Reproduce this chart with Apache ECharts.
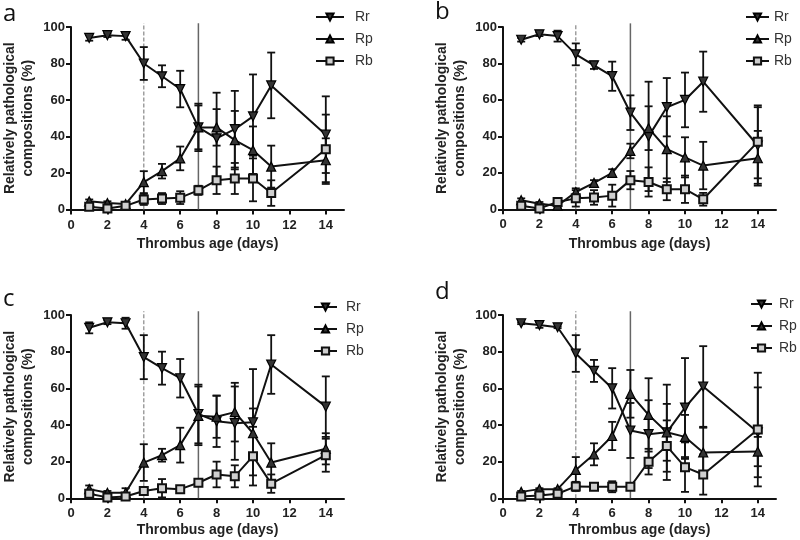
<!DOCTYPE html>
<html><head><meta charset="utf-8">
<script src="https://cdn.jsdelivr.net/npm/echarts@6/dist/echarts.min.js"></script>
<style>html,body{margin:0;padding:0;background:#fff}#c{width:800px;height:540px}</style>
</head><body><div id="c"></div>
<script>
// ---------- data ----------
const days = [1, 2, 3, 4, 5, 6, 7, 8, 9, 10, 11, 14];
const xTicks = [0, 2, 4, 6, 8, 10, 12, 14];
const seriesNames = ['Rr', 'Rp', 'Rb'];
const dashedDay = 4, solidDay = 7, refTop = 102;

// panel a
const aRr = [94, 95.5, 95, 80, 73, 66, 45, 39, 44, 51, 68, 41];
const aRrErr = [1.5, 1, 2, 9, 6, 10, 13, 25, 21, 23, 18, 21];
const aRp = [4.5, 3.5, 3, 15, 21, 28, 45, 45, 38, 32.5, 23.5, 27];
const aRpErr = [1, 1, 1, 6, 4, 6.5, 12, 10, 16, 13, 11.5, 12];
const aRb = [1.5, 0.5, 2, 5.5, 6, 6.5, 10.5, 16, 17, 17, 9, 33];
const aRbErr = [1.5, 1, 1, 3, 3, 3.5, 2.5, 7.5, 8.5, 12.5, 7, 19];
// panel b
const bRr = [93, 96, 95, 85, 79, 73, 53, 40, 56, 60, 70, 35];
const bRrErr = [1, 1, 3, 6, 2, 8, 9.5, 30, 16, 15, 16.5, 21];
const bRp = [5, 3, 2, 9.5, 14.5, 20, 32, 44.5, 33, 28.5, 24, 28];
const bRpErr = [1, 1, 1, 2, 1.5, 2, 4, 12, 18, 11, 13, 15];
const bRb = [2, 0.5, 4, 6, 6.5, 7.5, 16, 15, 11, 11, 5.5, 37];
const bRbErr = [1, 1, 1, 4.5, 4, 6, 5, 8, 6, 7.5, 3.5, 20];
// panel c
const cRr = [93, 96, 95.5, 77, 71, 65.5, 46, 42, 41, 41.5, 73, 50];
const cRrErr = [3, 1, 3, 12, 9, 10.5, 16, 14, 20, 29, 16, 16.5];
const cRp = [5, 3, 3, 19.5, 23.5, 29, 45, 44.5, 47, 35.5, 19.5, 27];
const cRpErr = [2, 1, 2.5, 10, 3.5, 9.5, 16, 11.5, 16, 13.5, 10.5, 8.5];
const cRb = [2.5, 0.5, 1, 4, 5.5, 5, 8.5, 13, 12, 23, 8, 23.5];
const cRbErr = [2, 1, 1, 2, 5, 1, 1.5, 7, 6, 16, 5, 9];
// panel d
const dRr = [95.5, 94.5, 93.3, 79, 69.5, 60, 37, 35, 36, 49.5, 61, 36];
const dRrErr = [0.5, 1.5, 0.5, 10, 6, 11, 15, 18.5, 15.5, 27, 22, 24.5];
const dRp = [3.5, 5, 5, 15.5, 24, 34, 57, 45.5, 36, 33.5, 25, 25.5];
const dRpErr = [0.5, 0.5, 0.5, 7, 6, 7.7, 13, 20, 26, 12, 13.5, 8];
const dRb = [1, 1.5, 2.5, 6.5, 6.3, 6.3, 6.3, 20, 28.5, 17, 13, 37.5];
const dRbErr = [0.5, 0.5, 0.5, 2.5, 1, 3, 1.5, 7, 14, 13.5, 11, 31];

const panels = [
  {letter: 'a', vals: [aRr, aRp, aRb], errs: [aRrErr, aRpErr, aRbErr]},
  {letter: 'b', vals: [bRr, bRp, bRb], errs: [bRrErr, bRpErr, bRbErr]},
  {letter: 'c', vals: [cRr, cRp, cRb], errs: [cRrErr, cRpErr, cRbErr]},
  {letter: 'd', vals: [dRr, dRp, dRb], errs: [dRrErr, dRpErr, dRbErr]}
];

// ---------- layout ----------
const grids = [
  {left: 69, top: 27, width: 275, height: 182.5},
  {left: 503, top: 27, width: 273, height: 182.3},
  {left: 69, top: 315, width: 275, height: 183.3},
  {left: 503, top: 315, width: 273, height: 183.3}
];
const legendPos = [
  {left: 315, top: 10, itemWidth: 28, pad: 6},
  {left: 745, top: 10, itemWidth: 23, pad: 0},
  {left: 313, top: 300, itemWidth: 23, pad: 4},
  {left: 750, top: 297, itemWidth: 21, pad: 2}
];
const letterPos = [[3, 2], [435, 0], [3, 287], [435, 280]];
const nameGapsX = [28, 28, 25, 25];

const FONT = 'Liberation Sans';
const INK = '#111';
const symbols = [
  {symbol: 'triangle', rotate: 180, size: 9, color: '#333', border: '#000', bw: 1.2},
  {symbol: 'triangle', rotate: 0, size: 9, color: '#333', border: '#000', bw: 1.2},
  {symbol: 'rect', rotate: 0, size: 8, color: '#cfcfcf', border: '#111', bw: 2}
];

function errRender(params, api) {
  const x = api.value(0), lo = api.value(1), hi = api.value(2);
  const pLo = api.coord([x, lo]), pHi = api.coord([x, hi]);
  const hw = 4;
  const st = {stroke: INK, lineWidth: 1.8};
  return {type: 'group', children: [
    {type: 'line', shape: {x1: pLo[0], y1: pLo[1], x2: pHi[0], y2: pHi[1]}, style: st},
    {type: 'line', shape: {x1: pLo[0] - hw, y1: pLo[1], x2: pLo[0] + hw, y2: pLo[1]}, style: st},
    {type: 'line', shape: {x1: pHi[0] - hw, y1: pHi[1], x2: pHi[0] + hw, y2: pHi[1]}, style: st}
  ]};
}

const option = {
  animation: false,
  backgroundColor: '#fff',
  grid: grids.map(g => Object.assign({containLabel: false}, g)),
  xAxis: grids.map((g, i) => ({
    type: 'value', gridIndex: i, min: 0, max: 15,
    name: 'Thrombus age (days)', nameLocation: 'middle', nameGap: nameGapsX[i],
    nameTextStyle: {fontFamily: FONT, fontWeight: 'bold', fontSize: 14, color: '#222'},
    axisLine: {onZero: false, lineStyle: {color: INK, width: 2}},
    axisTick: {show: true, length: 5, lineStyle: {color: INK, width: 2}, customValues: xTicks},
    axisLabel: {fontFamily: FONT, fontWeight: 'bold', fontSize: 13, color: '#222', margin: 9, customValues: xTicks},
    splitLine: {show: false}
  })),
  yAxis: grids.map((g, i) => ({
    type: 'value', gridIndex: i, min: 0, max: 100, interval: 20,
    name: 'Relatively pathological\ncompositions (%)', nameLocation: 'middle', nameGap: 34, nameRotate: 90,
    nameTextStyle: {fontFamily: FONT, fontWeight: 'bold', fontSize: 14, lineHeight: 18, color: '#222'},
    axisLine: {show: true, onZero: false, lineStyle: {color: INK, width: 2}},
    axisTick: {show: true, length: 5, lineStyle: {color: INK, width: 2}},
    axisLabel: {fontFamily: FONT, fontWeight: 'bold', fontSize: 13, color: '#222', margin: 6},
    splitLine: {show: false}
  })),
  legend: legendPos.map(l => ({
    orient: 'vertical', left: l.left, top: l.top, itemWidth: l.itemWidth, itemHeight: 9, itemGap: 8,
    padding: 0, data: seriesNames, selectedMode: false,
    textStyle: {fontFamily: FONT, fontSize: 14, color: '#333', padding: [0, 0, 0, l.pad], lineHeight: 14}
  })),
  graphic: panels.map((p, i) => ({
    type: 'text', left: letterPos[i][0], top: letterPos[i][1],
    style: {text: p.letter, font: '24px "Open Sans"', fill: '#111'}
  })),
  series: []
};

panels.forEach((p, i) => {
  option.series.push({
    type: 'line', name: 'ref4', xAxisIndex: i, yAxisIndex: i, clip: false, symbol: 'none', silent: true,
    data: [[dashedDay, 0], [dashedDay, refTop]],
    lineStyle: {color: '#888', width: 1.2, type: [4, 2]}, z: 1
  });
  option.series.push({
    type: 'line', name: 'ref7', xAxisIndex: i, yAxisIndex: i, clip: false, symbol: 'none', silent: true,
    data: [[solidDay, 0], [solidDay, refTop]],
    lineStyle: {color: '#666', width: 1.5}, z: 1
  });
  seriesNames.forEach((nm, k) => {
    const vals = p.vals[k], errs = p.errs[k], s = symbols[k];
    option.series.push({
      type: 'custom', name: nm + '_err', xAxisIndex: i, yAxisIndex: i, clip: false,
      renderItem: errRender, encode: {x: 0, y: [1, 2]}, z: 2, silent: true,
      data: days.map((d, j) => [d, vals[j] - errs[j], vals[j] + errs[j]])
    });
    option.series.push({
      type: 'line', name: nm, xAxisIndex: i, yAxisIndex: i,
      data: days.map((d, j) => [d, vals[j]]),
      symbol: s.symbol, symbolSize: s.size, symbolRotate: s.rotate, showSymbol: true,
      lineStyle: {color: INK, width: 2},
      itemStyle: {color: s.color, borderColor: s.border, borderWidth: s.bw},
      z: 3
    });
  });
});

const chart = echarts.init(document.getElementById('c'), null, {renderer: 'canvas'});
chart.setOption(option);
</script>
</body></html>
